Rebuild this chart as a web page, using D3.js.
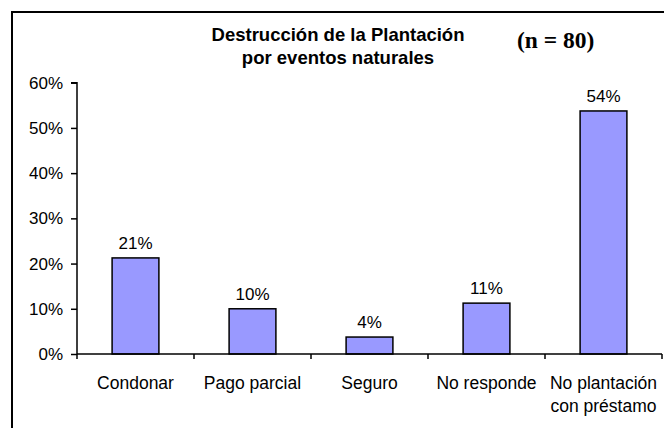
<!DOCTYPE html>
<html><head><meta charset="utf-8">
<script src="https://cdn.jsdelivr.net/npm/d3@7"></script>
<style>body{margin:0;background:#fff}svg{display:block}</style>
</head><body>
<script>
const categories = [["Condonar"],["Pago parcial"],["Seguro"],["No responde"],["No plantación","con préstamo"]];
const values = [0.2125, 0.10, 0.0375, 0.1125, 0.5375];
const valueLabels = ["21%","10%","4%","11%","54%"];
const yTicks = [0, 0.1, 0.2, 0.3, 0.4, 0.5, 0.6];
const titleLines = ["Destrucción de la Plantación", "por eventos naturales"];
const nLabel = "(n = 80)";

const W = 664, H = 428;
const svg = d3.select("body").append("svg").attr("width", W).attr("height", H);
svg.append("rect").attr("x",12).attr("y",12).attr("width",W+10).attr("height",H+10)
  .attr("fill","#fff").attr("stroke","#000").attr("stroke-width",2);

const keys = categories.map(c => c.join(" "));
const x = d3.scaleBand().domain(keys).range([77, 662]).paddingInner(0.6).paddingOuter(0.3);
const y = d3.scaleLinear().domain([0, 0.6]).range([354, 82.7]);
const step = x.step();

const font = "'Liberation Sans', Arial, sans-serif";
const fs = 17;

// y axis
const yAxis = svg.append("g").attr("transform","translate(77,0)")
  .call(d3.axisLeft(y).tickValues(yTicks).tickFormat(d3.format(".0%")).tickSize(6).tickPadding(8));
yAxis.select(".domain").attr("stroke","#000").attr("stroke-width",1.5).attr("d", `M-6,${y(0.6)}H0V${y(0)}`);
yAxis.selectAll(".tick line").attr("stroke","#000").attr("stroke-width",1.5);
yAxis.selectAll(".tick text").attr("font-family",font).attr("font-size",fs).attr("fill","#000");

// bars
svg.selectAll("rect.bar").data(values).join("rect").attr("class","bar")
  .attr("x",(d,i)=>x(keys[i])).attr("y",d=>y(d))
  .attr("width",x.bandwidth()).attr("height",d=>y(0)-y(d))
  .attr("fill","#9999FF").attr("stroke","#000").attr("stroke-width",1.5);

// x axis line and ticks at band boundaries
svg.append("line").attr("x1",77).attr("x2",662).attr("y1",y(0)).attr("y2",y(0))
  .attr("stroke","#000").attr("stroke-width",1.5);
svg.selectAll("line.xt").data(d3.range(keys.length+1)).join("line").attr("class","xt")
  .attr("x1",i=>77+i*step).attr("x2",i=>77+i*step).attr("y1",y(0)).attr("y2",y(0)+5)
  .attr("stroke","#000").attr("stroke-width",1.5);

// value labels
svg.selectAll("text.val").data(values).join("text").attr("class","val")
  .attr("x",(d,i)=>x(keys[i])+x.bandwidth()/2).attr("y",d=>y(d)-9)
  .attr("text-anchor","middle").attr("font-family",font).attr("font-size",fs)
  .text((d,i)=>valueLabels[i]);

// category labels
categories.forEach((lines,i)=>{
  const cx = x(keys[i])+x.bandwidth()/2;
  const t = svg.append("text").attr("text-anchor","middle").attr("font-family",font).attr("font-size",17.5)
    .attr("x", cx).attr("y", 389);
  lines.forEach((l,j)=> t.append("tspan").attr("x", cx).attr("dy", j?23:0).text(l));
});

// title
const tt = svg.append("text").attr("text-anchor","middle").attr("font-family",font)
  .attr("font-size",18.5).attr("font-weight","bold").attr("x",338).attr("y",41);
titleLines.forEach((l,j)=> tt.append("tspan").attr("x",338).attr("dy", j?23:0).text(l));

svg.append("text").attr("x",517).attr("y",48).attr("font-family","'Liberation Serif','Times New Roman',serif")
  .attr("font-size",23.5).attr("font-weight","bold").text(nLabel);
</script>
</body></html>
